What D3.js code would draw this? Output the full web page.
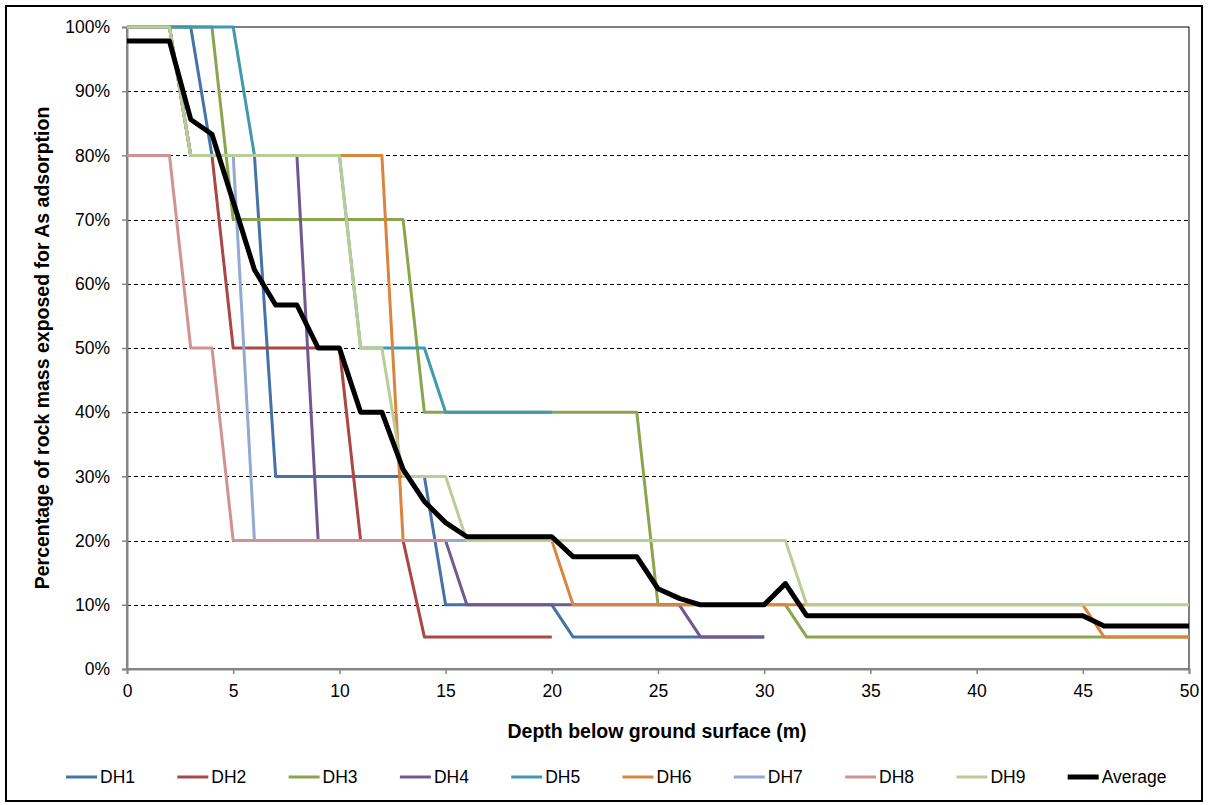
<!DOCTYPE html>
<html>
<head>
<meta charset="utf-8">
<script src="https://cdn.jsdelivr.net/npm/d3@7"></script>
<style>
  html, body { margin: 0; padding: 0; background: #fff; }
  svg { display: block; font-family: "Liberation Sans", Arial, sans-serif; }
</style>
</head>
<body>
<svg id="chart" width="1208" height="805"></svg>
<script>
// Depth below ground surface (m), one reading per metre
const depths = [0,1,2,3,4,5,6,7,8,9,10,11,12,13,14,15,16,17,18,19,20,21,22,23,24,25,
  26,27,28,29,30,31,32,33,34,35,36,37,38,39,40,41,42,43,44,45,46,47,48,49,50];

// Percentage of rock mass exposed, per drill hole (null = no data at that depth)
const _ = null;
const dh1 = [100,100,100,100,80,80,80,30,30,30,30,30,30,30,30,10,10,10,10,10,10,5,5,5,5,5,
  5,5,5,5,5,_,_,_,_,_,_,_,_,_,_,_,_,_,_,_,_,_,_,_,_];
const dh2 = [100,100,100,80,80,50,50,50,50,50,50,20,20,20,5,5,5,5,5,5,5,_,_,_,_,_,
  _,_,_,_,_,_,_,_,_,_,_,_,_,_,_,_,_,_,_,_,_,_,_,_,_];
const dh3 = [100,100,100,100,100,70,70,70,70,70,70,70,70,70,40,40,40,40,40,40,40,40,40,40,40,10,
  10,10,10,10,10,10,5,5,5,5,5,5,5,5,5,5,5,5,5,5,5,5,5,5,5];
const dh4 = [100,100,100,80,80,80,80,80,80,20,20,20,20,20,20,20,10,10,10,10,10,10,10,10,10,10,
  10,5,5,5,5,_,_,_,_,_,_,_,_,_,_,_,_,_,_,_,_,_,_,_,_];
const dh5 = [100,100,100,100,100,100,80,80,80,80,80,50,50,50,50,40,40,40,40,40,40,_,_,_,_,_,
  _,_,_,_,_,_,_,_,_,_,_,_,_,_,_,_,_,_,_,_,_,_,_,_,_];
const dh6 = [100,100,100,80,80,80,80,80,80,80,80,80,80,20,20,20,20,20,20,20,20,10,10,10,10,10,
  10,10,10,10,10,10,10,10,10,10,10,10,10,10,10,10,10,10,10,10,5,5,5,5,5];
const dh7 = [100,100,100,80,80,80,20,20,20,20,20,20,20,20,20,20,20,20,20,20,20,20,20,20,20,20,
  _,_,_,_,_,_,_,_,_,_,_,_,_,_,_,_,_,_,_,_,_,_,_,_,_];
const dh8 = [80,80,80,50,50,20,20,20,20,20,20,20,20,20,20,20,_,_,_,_,_,_,_,_,_,_,
  _,_,_,_,_,_,_,_,_,_,_,_,_,_,_,_,_,_,_,_,_,_,_,_,_];
const dh9 = [100,100,100,80,80,80,80,80,80,80,80,50,50,30,30,30,20,20,20,20,20,20,20,20,20,20,
  20,20,20,20,20,20,10,10,10,10,10,10,10,10,10,10,10,10,10,10,10,10,10,10,10];
const average = [97.8,97.8,97.8,85.6,83.3,72.8,62.2,56.7,56.7,50,50,40,40,31.1,26.1,22.8,20.6,20.6,20.6,20.6,20.6,
  17.5,17.5,17.5,17.5,12.5,11,10,10,10,10,13.3,8.3,8.3,8.3,8.3,8.3,8.3,8.3,8.3,8.3,8.3,8.3,8.3,8.3,8.3,
  6.7,6.7,6.7,6.7,6.7];

const seriesNames = ["DH1","DH2","DH3","DH4","DH5","DH6","DH7","DH8","DH9","Average"];
const seriesValues = [dh1,dh2,dh3,dh4,dh5,dh6,dh7,dh8,dh9,average];
const seriesColors = ["#4572A7","#AA4643","#89A54E","#71588F","#4198AF","#DB843D","#93A9CF","#D19392","#B9CD96","#000000"];

const xTicks = [0,5,10,15,20,25,30,35,40,45,50];
const yTicks = [0,10,20,30,40,50,60,70,80,90,100];

const svg = d3.select("#chart");
const plot = { left: 127, right: 1189, top: 27, bottom: 669 };

const x = d3.scaleLinear().domain([0, 50]).range([plot.left, plot.right]);
const y = d3.scaleLinear().domain([0, 100]).range([plot.bottom, plot.top]);

// outer chart frame
svg.append("rect")
  .attr("x", 6).attr("y", 6).attr("width", 1196).attr("height", 795)
  .attr("fill", "#fff").attr("stroke", "#000").attr("stroke-width", 2);

// plot area border
svg.append("rect")
  .attr("x", plot.left).attr("y", plot.top)
  .attr("width", plot.right - plot.left).attr("height", plot.bottom - plot.top)
  .attr("fill", "none").attr("stroke", "#000").attr("stroke-width", 1);

// dashed horizontal gridlines
svg.append("g")
  .selectAll("line")
  .data(yTicks.filter(t => t > 0 && t < 100))
  .join("line")
  .attr("x1", plot.left).attr("x2", plot.right)
  .attr("y1", d => Math.round(y(d)) + 0.5).attr("y2", d => Math.round(y(d)) + 0.5)
  .attr("stroke", "#000").attr("stroke-width", 1).attr("stroke-dasharray", "4,3");

// axes
const yAxis = d3.axisLeft(y).tickValues(yTicks).tickFormat(d => d + "%").tickSize(5).tickPadding(12);
const xAxis = d3.axisBottom(x).tickValues(xTicks).tickFormat(d3.format("d")).tickSize(5).tickPadding(11);

const gy = svg.append("g").attr("transform", `translate(${plot.left},0)`).call(yAxis);
const gx = svg.append("g").attr("transform", `translate(0,${plot.bottom})`).call(xAxis);

[gx, gy].forEach(g => {
  g.select(".domain").attr("stroke", "#868686").attr("stroke-width", 2);
  g.selectAll(".tick line").attr("stroke", "#868686").attr("stroke-width", 1.5);
  g.selectAll(".tick text").attr("fill", "#000")
    .style("font-family", "'Liberation Sans', Arial, sans-serif").style("font-size", "17.5px");
});

// series lines
const line = d3.line()
  .defined(d => d[1] !== null)
  .x(d => x(d[0]))
  .y(d => y(d[1]));

const gLines = svg.append("g");
seriesValues.forEach((vals, i) => {
  const pts = depths.map((d, j) => [d, vals[j]]);
  gLines.append("path")
    .datum(pts)
    .attr("d", line)
    .attr("fill", "none")
    .attr("stroke", seriesColors[i])
    .attr("stroke-width", seriesNames[i] === "Average" ? 5 : 3)
    .attr("stroke-linejoin", "round")
    .attr("stroke-linecap", "butt");
});

// axis titles
svg.append("text")
  .attr("x", 657).attr("y", 738)
  .attr("text-anchor", "middle")
  .style("font-weight", "bold").style("font-size", "19.5px")
  .text("Depth below ground surface (m)");

svg.append("text")
  .attr("transform", `translate(49,${(plot.top + plot.bottom) / 2}) rotate(-90)`)
  .attr("text-anchor", "middle")
  .style("font-weight", "bold").style("font-size", "19.5px")
  .text("Percentage of rock mass exposed for As adsorption");

// legend
const legendX0 = 66, legendStep = 111.3, legendY = 777;
const legend = svg.append("g");
seriesNames.forEach((name, i) => {
  const gx0 = legendX0 + i * legendStep;
  legend.append("line")
    .attr("x1", gx0).attr("x2", gx0 + 31)
    .attr("y1", legendY).attr("y2", legendY)
    .attr("stroke", seriesColors[i])
    .attr("stroke-width", name === "Average" ? 5 : 3);
  legend.append("text")
    .attr("x", gx0 + 34).attr("y", legendY)
    .attr("dy", "0.35em")
    .style("font-size", "17.5px")
    .text(name);
});
</script>
</body>
</html>
